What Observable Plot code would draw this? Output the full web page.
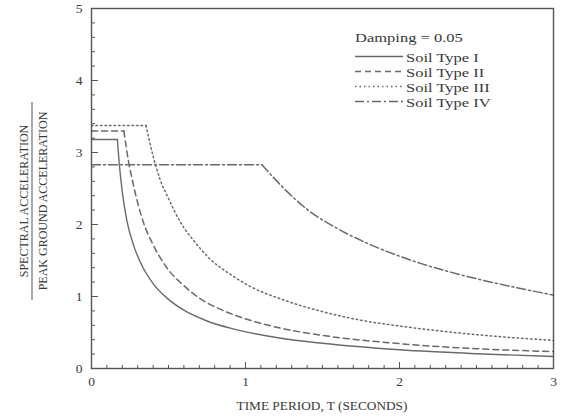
<!DOCTYPE html>
<html>
<head>
<meta charset="utf-8">
<script src="https://cdn.jsdelivr.net/npm/d3@7"></script>
<script src="https://cdn.jsdelivr.net/npm/@observablehq/plot@0.6"></script>
<style>
  html, body { margin: 0; padding: 0; background: #fff; }
  #chart svg { display: block; }
</style>
</head>
<body>
<div id="chart"></div>
<script>
// Soil Type I
const t1 = [0, 0.168, 0.18, 0.2, 0.23, 0.275, 0.33, 0.4, 0.5, 0.6, 0.75, 0.92, 1.2, 1.5, 2.0, 2.5, 3.0];
const v1 = [3.18, 3.18, 2.85, 2.45, 2.05, 1.70, 1.42, 1.18, 0.96, 0.81, 0.66, 0.55, 0.43, 0.35, 0.26, 0.205, 0.167];
// Soil Type II
const t2 = [0, 0.21, 0.24, 0.272, 0.337, 0.4, 0.489, 0.6, 0.705, 0.85, 1.03, 1.25, 1.5, 2.0, 2.5, 3.0];
const v2 = [3.30, 3.30, 2.88, 2.55, 2.03, 1.72, 1.40, 1.15, 0.97, 0.81, 0.67, 0.55, 0.46, 0.345, 0.275, 0.235];
// Soil Type III
const t3 = [0, 0.354, 0.4, 0.445, 0.5, 0.575, 0.67, 0.77, 0.9, 1.03, 1.25, 1.5, 1.75, 2.0, 2.5, 3.0];
const v3 = [3.375, 3.375, 2.95, 2.63, 2.36, 2.04, 1.76, 1.52, 1.31, 1.14, 0.95, 0.79, 0.67, 0.59, 0.47, 0.39];
// Soil Type IV
const t4 = [0, 1.107, 1.25, 1.4, 1.6, 1.8, 2.0, 2.136, 2.4, 2.7, 3.0];
const v4 = [2.83, 2.83, 2.5, 2.21, 1.94, 1.73, 1.56, 1.46, 1.30, 1.15, 1.02];

const seriesNames = ["Soil Type I", "Soil Type II", "Soil Type III", "Soil Type IV"];
const dashes = [null, "6,4", "1.5,3", "9,3,2,3"];
const xTicks = [0, 1, 2, 3];
const xMinor = d3.range(0, 3.0001, 0.1);
const yTicks = [0, 1, 2, 3, 4, 5];
const yMinor = d3.range(0, 5.0001, 0.2);
const dampingLabel = "Damping = 0.05";
const xLabel = "TIME PERIOD, T (SECONDS)";
const yLabelTop = "SPECTRAL ACCELERATION";
const yLabelBottom = "PEAK GROUND ACCELERATION";

const ts = [t1, t2, t3, t4];
const vs = [v1, v2, v3, v4];

const font = "'Liberation Serif', 'DejaVu Serif', serif";
const ink = "#3a3a3a";
const lineColor = "#6a6a6a";

// each series: flat plateau (straight) + descending branch (smooth), meeting at a sharp corner
const lineMarks = [];
seriesNames.forEach((name, s) => {
  const pts = ts[s].map((T, i) => ({series: name, T, v: vs[s][i]}));
  const style = {x: "T", y: "v", stroke: lineColor, strokeWidth: s === 0 ? 1.4 : 1.5, strokeDasharray: dashes[s]};
  lineMarks.push(Plot.line(pts.slice(0, 2), {...style, curve: "linear"}));
  lineMarks.push(Plot.line(pts.slice(1), {...style, curve: "monotone-x"}));
});

const legend = (index, scales, values, dims) => {
  const g = d3.create("svg:g").attr("text-anchor", "start")
    .style("font-family", font).style("font-size", "13px").attr("fill", ink);
  const x0 = 355, sx = 1.27;
  g.append("text").attr("transform", `translate(${x0},42) scale(${sx},1)`).text(dampingLabel);
  seriesNames.forEach((name, i) => {
    const y = 56.5 + i * 15;
    g.append("line").attr("x1", x0).attr("x2", x0 + 48).attr("y1", y).attr("y2", y)
      .attr("stroke", lineColor).attr("stroke-width", 1.3)
      .attr("stroke-dasharray", dashes[i]);
    g.append("text").attr("transform", `translate(${x0 + 51},${y + 5}) scale(${sx},1)`).text(name);
  });
  return g.node();
};

const labels = (index, scales, values, dims) => {
  const g = d3.create("svg:g").style("font-family", font).attr("fill", ink).attr("text-anchor", "middle");
  const cy = 201;
  g.append("text").attr("transform", `translate(28,${cy}) rotate(-90)`).style("font-size", "12px").text(yLabelTop);
  g.append("line").attr("x1", 32).attr("x2", 32).attr("y1", cy - 99).attr("y2", cy + 99)
    .attr("stroke", "#555").attr("stroke-width", 1);
  g.append("text").attr("transform", `translate(47,${cy}) rotate(-90)`).style("font-size", "12px").text(yLabelBottom);
  g.append("text").attr("x", 322).attr("y", 410).style("font-size", "13.3px").text(xLabel);
  return g.node();
};

const chart = Plot.plot({
  width: 562, height: 417,
  marginLeft: 91, marginRight: 9, marginTop: 8, marginBottom: 49,
  style: {fontFamily: font, fontSize: "13.5px", color: ink, background: "#fff"},
  x: {domain: [0, 3]},
  y: {domain: [0, 5]},
  marks: [
    Plot.axisX({ticks: xMinor, tickSize: -3, text: null, label: null, stroke: "#555"}),
    Plot.axisX({ticks: xTicks, tickSize: -6, tickPadding: 14, tickFormat: d => d, label: null, stroke: "#555"}),
    Plot.axisY({ticks: yMinor, tickSize: -4, text: null, label: null, stroke: "#555"}),
    Plot.axisY({ticks: yTicks, tickSize: -7, tickPadding: 16, tickFormat: d => d, label: null, stroke: "#555"}),
    ...lineMarks,
    Plot.frame({stroke: "#555", strokeWidth: 1.4}),
    legend,
    labels
  ]
});
document.getElementById("chart").append(chart);
</script>
</body>
</html>
